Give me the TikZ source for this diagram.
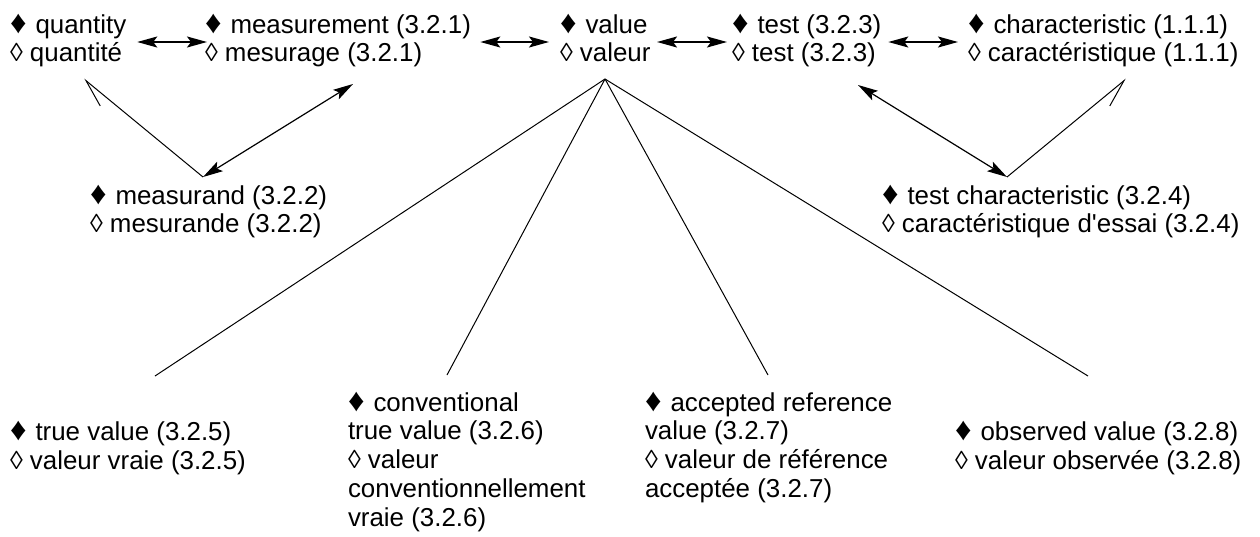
\documentclass[tikz,border=0pt]{standalone}
\usepackage{fontspec}
\setmainfont{Liberation Sans}[Ligatures=TeXOff]
\usetikzlibrary{arrows.meta}
% filled diamond marking the English term, a little enlarged, with its gap
\newcommand\engmark{\scalebox{1.25}{♦}\hspace{9pt}}
\begin{document}
\begin{tikzpicture}[x=1pt, y=-1pt,
  % multi-line terms: the base anchor sits on the last line
  term/.style={anchor=base west, inner sep=0pt, outer sep=0pt, align=left,
    font=\fontsize{25.9pt}{28.7pt}\selectfont},
  pair/.style={term, text height=47.7pt, text depth=8.3pt},
  tipS/.tip={Stealth[length=20pt, width=11pt, inset=4pt]},
  twoway/.style={line width=1.6pt, tipS-tipS},
  slant/.style={line width=1.2pt, tipS-tipS},
  tree/.style={line width=1pt},
  generic/.style={line width=1pt, -{Straight Barb[harpoon, length=27pt, width=21pt, line width=1pt]}},
  generic'/.style={line width=1pt, -{Straight Barb[harpoon, swap, length=27pt, width=21pt, line width=1pt]}},
]
\useasboundingbox (0,0) rectangle (1260,536);

% upper row of terms
\node[pair] (quantity)       at (10,61.7)  {\engmark quantity\\◊ quantité};
\node[pair] (measurement)    at (205,61.7) {\engmark measurement (3.2.1)\\◊ mesurage (3.2.1)};
\node[pair] (value)          at (560,61.7) {\engmark value\\◊ valeur};
\node[pair] (test)           at (732,61.7) {\engmark test (3.2.3)\\◊ test (3.2.3)};
\node[pair] (characteristic) at (968,61.7) {\engmark characteristic (1.1.1)\\◊ caractéristique (1.1.1)};

% middle row
\node[term] (measurand) at (90,232.7)  {\engmark measurand (3.2.2)\\◊ mesurande (3.2.2)};
\node[term] (testchar)  at (882,232.7) {\engmark test characteristic (3.2.4)\\◊ caractéristique d'essai (3.2.4)};

% kinds of value
\node[term] (truevalue)    at (10,469)    {\engmark true value (3.2.5)\\◊ valeur vraie (3.2.5)};
\node[term] (conventional) at (348,526)   {\engmark conventional\\true value (3.2.6)\\◊ valeur\\conventionnellement\\vraie (3.2.6)};
\node[term] (accepted)     at (645,497.3) {\engmark accepted reference\\value (3.2.7)\\◊ valeur de référence\\acceptée (3.2.7)};
\node[term] (observed)     at (955,469)   {\engmark observed value (3.2.8)\\◊ valeur observée (3.2.8)};

% junction points of the relation lines
\coordinate (quantity-foot)       at (84,79);
\coordinate (measurement-foot)    at (353,84);
\coordinate (measurand-hub)       at (203,177);
\coordinate (test-foot)           at (858,85);
\coordinate (characteristic-foot) at (1126,79);
\coordinate (testchar-hub)        at (1007,177);
\coordinate (value-hub)           at (605,79);
\coordinate (truevalue-top)       at (155,376);
\coordinate (conventional-top)    at (447,375);
\coordinate (accepted-top)        at (768,375);
\coordinate (observed-top)        at (1088,376);

% associative relations along the upper row
\draw[twoway, shorten <=11pt, shorten >=-2pt]  (quantity.east) -- (measurement.west);
\draw[twoway, shorten <=9.4pt, shorten >=11pt] (measurement.east) -- (value.west);
\draw[twoway, shorten <=6.5pt, shorten >=5pt]  (value.east) -- (test.west);
\draw[twoway, shorten <=7pt, shorten >=10pt]   (test.east) -- (characteristic.west);

% measurand and test characteristic
\draw[slant] (measurement-foot) -- (measurand-hub);
\draw[generic] (measurand-hub) -- (quantity-foot);
\draw[slant] (test-foot) -- (testchar-hub);
\draw[generic'] (testchar-hub) -- (characteristic-foot);

% value and its kinds
\draw[tree] (value-hub) -- (truevalue-top);
\draw[tree] (value-hub) -- (conventional-top);
\draw[tree] (value-hub) -- (accepted-top);
\draw[tree] (value-hub) -- (observed-top);
\end{tikzpicture}
\end{document}
